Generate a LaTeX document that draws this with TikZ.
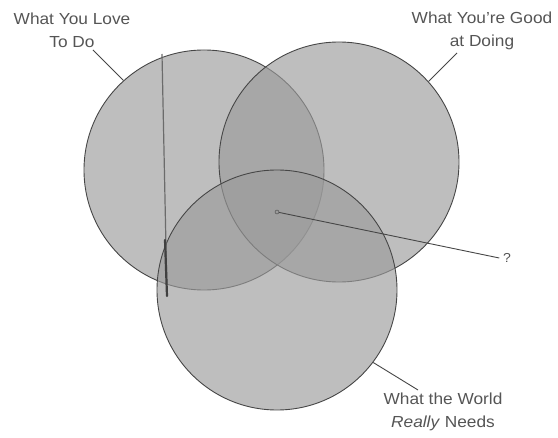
\documentclass[tikz,border=0pt]{standalone}
\usepackage{fontspec}
\setmainfont{Liberation Sans}
\usetikzlibrary{calc,positioning}
\definecolor{ink}{RGB}{70,70,70}
\definecolor{shade}{RGB}{155,155,155}
\definecolor{lbl}{RGB}{85,85,85}

\begin{document}
\begin{tikzpicture}[
  x=1pt, y=-1pt,
  ring/.style={circle, minimum size=240pt, inner sep=0pt,
    fill=shade, fill opacity=0.65, draw=ink, draw opacity=1, line width=0.9pt},
  lab/.style={font=\fontsize{16}{23}\selectfont, text=lbl, align=center, xscale=1.08},
  pointer/.style={draw=ink, line width=0.9pt},
  dot/.style={circle, draw=ink, fill=shade, inner sep=0pt, minimum size=4pt}]

\useasboundingbox (0,0) rectangle (558,438);

% the three circles
\node[ring] (love)  at (204,170) {};
\node[ring] (good)  at (339,162) {};
\node[ring] (world) at (277,290) {};

% pencil stroke down the left circle
\coordinate (vtop) at (162,54);
\coordinate (vmid) at (165,240);
\coordinate (vbot) at (167,296);
\draw[ink!80, line width=1.2pt] (vtop) -- (vbot);
\draw[black!75, line width=2.2pt, line cap=round] (vmid) -- (vbot);

% labels
\node[lab] (lovelab)  at (72,30)   {What You Love\\To Do};
\node[lab] (goodlab)  at (482,31)  {What You're Good\\at Doing};
\node[lab] (worldlab) at (443,412) {What the World\\\textit{Really} Needs};
\node[lab, font=\fontsize{13}{15}\selectfont] (q) at (507,258) {?};

% pointers
\coordinate (lovetip)  at (93,50);
\coordinate (goodtip)  at (457,53);
\coordinate (worldtip) at (418,390);
\draw[pointer] (lovetip) -- (love.132);
\draw[pointer] (goodtip) -- (good.42);
\draw[pointer] (worldtip) -- (world.-37);

% the centre
\node[dot] (mid) at (277,212) {};
\draw[pointer] (mid) -- (q.west);

\end{tikzpicture}
\end{document}
